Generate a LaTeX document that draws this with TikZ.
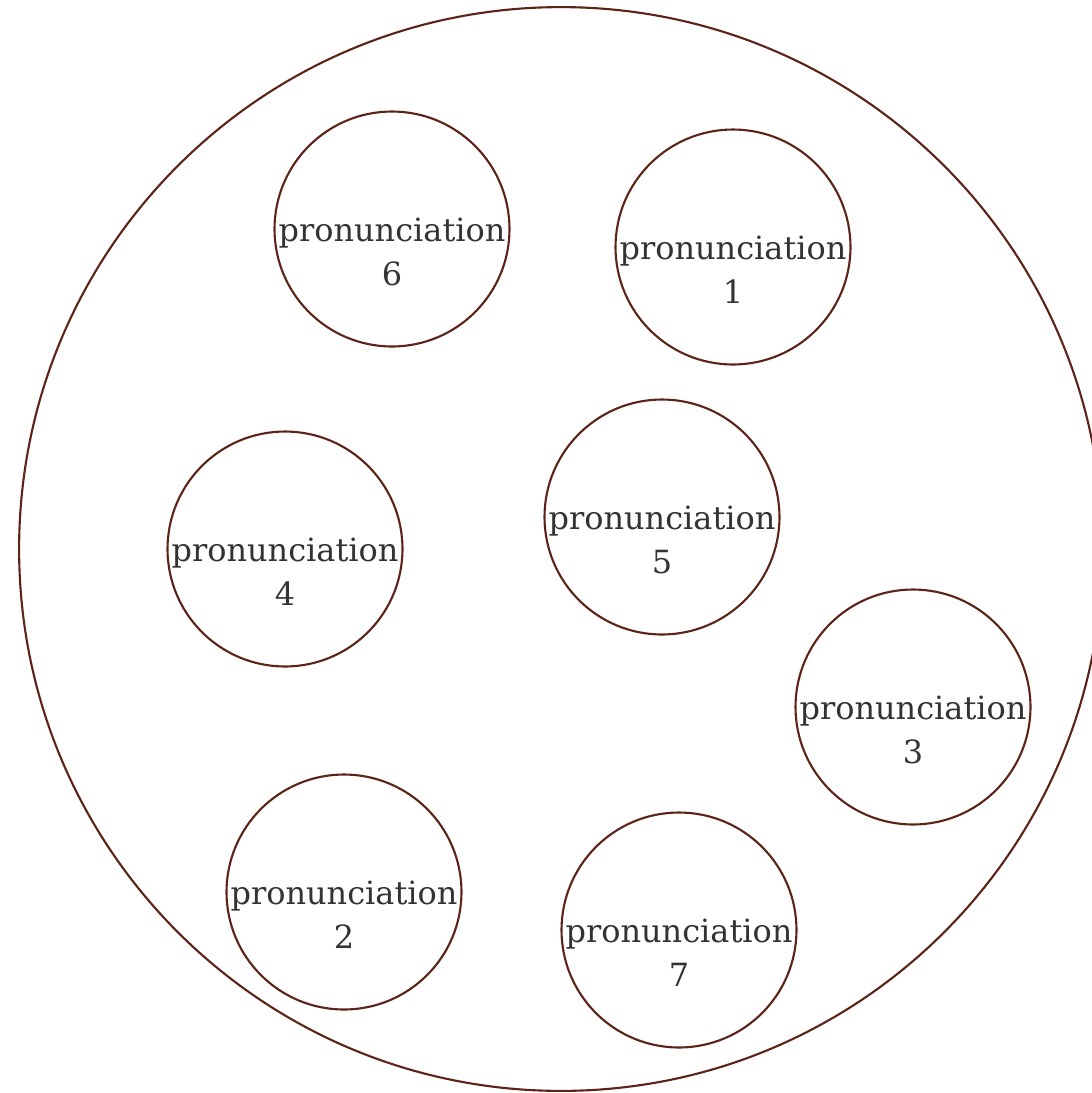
\documentclass[tikz,border=0pt]{standalone}
\usepackage{fontspec}
\setmainfont{DejaVu Serif}
\usetikzlibrary{positioning}

\definecolor{rim}{HTML}{5C2418}
\definecolor{ink}{HTML}{333333}

\begin{document}
\begin{tikzpicture}[
        x=0.02cm, y=-0.02cm,
        outer/.style={
            draw=rim,
            line width=1.2pt,
            circle,
            minimum size=21.68cm,
            inner sep=0pt
        },
        sound/.style={
            draw=rim,
            line width=1.2pt,
            circle,
            minimum size=4.70cm,
            inner sep=0pt
        },
        soundtext/.style={
            font=\fontsize{18.2}{25}\selectfont,
            text=ink,
            align=center,
            inner sep=0pt
        }
    ]

    \useasboundingbox (0,0) rectangle (1092,1093);
    \clip (0,0) rectangle (1092,1093);

    \node[outer] (set) at (561,549) {};

    % one small circle per pronunciation
    \foreach \n/\px/\py in {1/733/247, 2/344/892, 3/913/707, 4/285/549,
                            5/662/517, 6/392/229, 7/679/930} {
        \node[sound] (p\n) at (\px,\py) {};
        \node[soundtext] (t\n) at ([yshift=-0.46cm]p\n.center)
            {pronunciation\\\n};
    }

\end{tikzpicture}
\end{document}
